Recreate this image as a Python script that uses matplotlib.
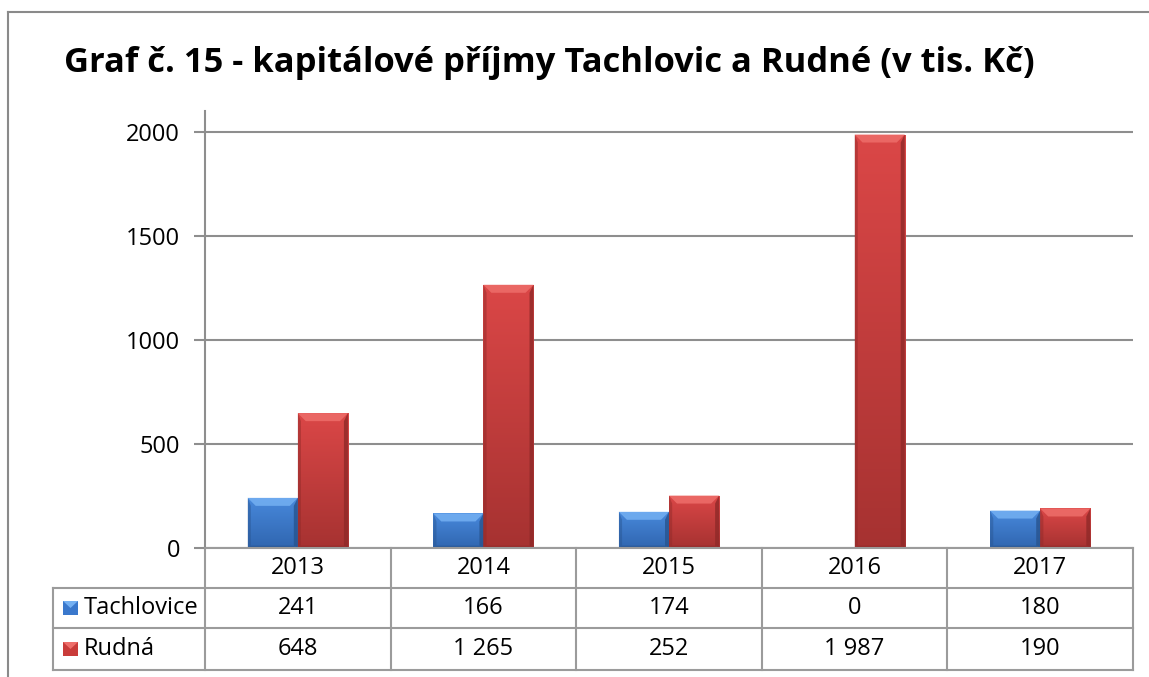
import matplotlib
matplotlib.use("Agg")
import matplotlib.pyplot as plt
from matplotlib.lines import Line2D
from matplotlib.patches import Polygon, Rectangle
from matplotlib.colors import LinearSegmentedColormap
import numpy as np

years = ["2013", "2014", "2015", "2016", "2017"]
tachlovice = [241, 166, 174, 0, 180]
rudna = [648, 1265, 252, 1987, 190]
tach_labels = ["241", "166", "174", "0", "180"]
rudna_labels = ["648", "1 265", "252", "1 987", "190"]
series_names = ["Tachlovice", "Rudná"]
yticks = [0, 500, 1000, 1500, 2000]
title = "Graf č. 15 - kapitálové příjmy Tachlovic a Rudné (v tis. Kč)"

plt.rcParams['font.family'] = ['Open Sans', 'DejaVu Sans']

W, H = 1149, 677
fig = plt.figure(figsize=(W / 100, H / 100), dpi=100)

ax_l, ax_r, ax_t, ax_b = 205, 1133, 111, 548
ax = fig.add_axes([ax_l / W, 1 - ax_b / H, (ax_r - ax_l) / W, (ax_b - ax_t) / H])

grid_c = "#8e8e8e"
line_c = "#9b9b9b"
fs = 17

x = np.arange(len(years))
bw = 0.27
colors = {
    "blue": dict(main="#3a78cc", top="#4889dc", bottom="#3066b0", light="#74b0f2", dark="#28548f"),
    "red": dict(main="#c93c3a", top="#db4747", bottom="#a63231", light="#ee6e6a", dark="#8f2928"),
}
bars_b = ax.bar(x - bw / 2, tachlovice, bw, color=colors["blue"]["main"], zorder=3, linewidth=0)
bars_r = ax.bar(x + bw / 2, rudna, bw, color=colors["red"]["main"], zorder=3, linewidth=0)

ax.set_xlim(-0.5, len(years) - 0.5)
ax.set_ylim(0, 2100)

px_x = 1.0 / 185.6
px_y = 2100 / (ax_b - ax_t)
bev = 8
grad = np.linspace(0, 1, 256).reshape(-1, 1)
for bars, key in ((bars_b, "blue"), (bars_r, "red")):
    c = colors[key]
    cmap = LinearSegmentedColormap.from_list(key, [c["bottom"], c["top"]])
    for p in bars:
        x0, y0 = p.get_x(), p.get_y()
        w, h = p.get_width(), p.get_height()
        if h <= 0:
            continue
        x1, y1 = x0 + w, y0 + h
        im = ax.imshow(grad, extent=(x0, x1, y0, y1), origin="lower", cmap=cmap,
                       aspect="auto", zorder=3.5, interpolation="bilinear")
        im.set_clip_path(p)
        dx, dy = bev * px_x, min(bev * px_y, h / 2)
        top = Polygon([(x0, y1), (x1, y1), (x1 - dx, y1 - dy), (x0 + dx, y1 - dy)],
                      closed=True, facecolor=c["light"], edgecolor="none", zorder=4, alpha=0.85)
        right = Polygon([(x1, y0), (x1, y1), (x1 - dx * 0.5, y1 - dy), (x1 - dx * 0.5, y0 + dy * 0.3)],
                        closed=True, facecolor=c["dark"], edgecolor="none", zorder=4, alpha=0.8)
        left = Polygon([(x0, y0), (x0, y1), (x0 + dx * 0.4, y1 - dy), (x0 + dx * 0.4, y0 + dy * 0.3)],
                       closed=True, facecolor=c["dark"], edgecolor="none", zorder=4, alpha=0.45)
        bottom = Polygon([(x0, y0), (x1, y0), (x1 - dx * 0.5, y0 + dy * 0.3), (x0 + dx * 0.4, y0 + dy * 0.3)],
                         closed=True, facecolor=c["dark"], edgecolor="none", zorder=4, alpha=0.6)
        for poly in (top, right, left, bottom):
            ax.add_patch(poly)

ax.set_xlim(-0.5, len(years) - 0.5)
ax.set_ylim(0, 2100)

for s in ["top", "right", "bottom"]:
    ax.spines[s].set_visible(False)
ax.spines["left"].set_color(grid_c)
ax.spines["left"].set_linewidth(1.5)
ax.set_yticks(yticks)
ax.set_yticklabels([str(v) for v in yticks], fontsize=fs)
ax.tick_params(axis="y", length=8, width=1.5, color=grid_c, pad=10)
ax.tick_params(axis="x", length=0, labelbottom=False)
ax.yaxis.grid(True, color=grid_c, linewidth=1.5, zorder=0)
ax.set_axisbelow(True)

trans = ax.get_xaxis_transform()
ph = ax_b - ax_t
def yf(py):
    return (ax_b - py) / ph

row_lines = [548, 588, 628, 670]
row_centers = [(row_lines[i] + row_lines[i + 1]) / 2 for i in range(3)]
leg_left = -0.5 - (ax_l - 53) * px_x

ax.plot([-0.5, len(years) - 0.5], [yf(548)] * 2, transform=trans, color=line_c, lw=1.5, clip_on=False, zorder=5)
for py in row_lines[1:]:
    ax.plot([leg_left, len(years) - 0.5], [yf(py)] * 2, transform=trans, color=line_c, lw=1.5, clip_on=False)
for k in range(len(years) + 1):
    ax.plot([k - 0.5, k - 0.5], [yf(548), yf(670)], transform=trans, color=line_c, lw=1.5, clip_on=False)
ax.plot([leg_left, leg_left], [yf(588), yf(670)], transform=trans, color=line_c, lw=1.5, clip_on=False)

for i, yr in enumerate(years):
    ax.text(i, yf(row_centers[0]), yr, transform=trans, ha="center", va="center", fontsize=fs)
    ax.text(i, yf(row_centers[1]), tach_labels[i], transform=trans, ha="center", va="center", fontsize=fs)
    ax.text(i, yf(row_centers[2]), rudna_labels[i], transform=trans, ha="center", va="center", fontsize=fs)

key_w = 15 * px_x
key_h = 14 / ph
for r, (name, key) in enumerate(zip(series_names, ["blue", "red"])):
    yc = yf(row_centers[r + 1])
    kx = leg_left + 10 * px_x
    rect = Rectangle((kx, yc - key_h / 2), key_w, key_h, transform=trans,
                     facecolor=colors[key]["main"], edgecolor="none", clip_on=False)
    ax.add_patch(rect)
    tri = Polygon([(kx, yc + key_h / 2), (kx + key_w, yc + key_h / 2), (kx + key_w / 2, yc)],
                  closed=True, transform=trans, facecolor=colors[key]["light"], edgecolor="none", clip_on=False)
    ax.add_patch(tri)
    ax.text(kx + key_w + 6 * px_x, yc, name, transform=trans, ha="left", va="center", fontsize=fs)

fig.add_artist(Line2D([8 / W, 8 / W], [0, 1 - 12 / H], color="#8a8a8a", lw=1.5))
fig.add_artist(Line2D([8 / W, 1], [1 - 12 / H, 1 - 12 / H], color="#8a8a8a", lw=1.5))

fig.text(549 / W, 1 - 63 / H, title, ha="center", va="center", fontsize=24.8, fontweight="bold")

fig.savefig("out.png", dpi=100)
